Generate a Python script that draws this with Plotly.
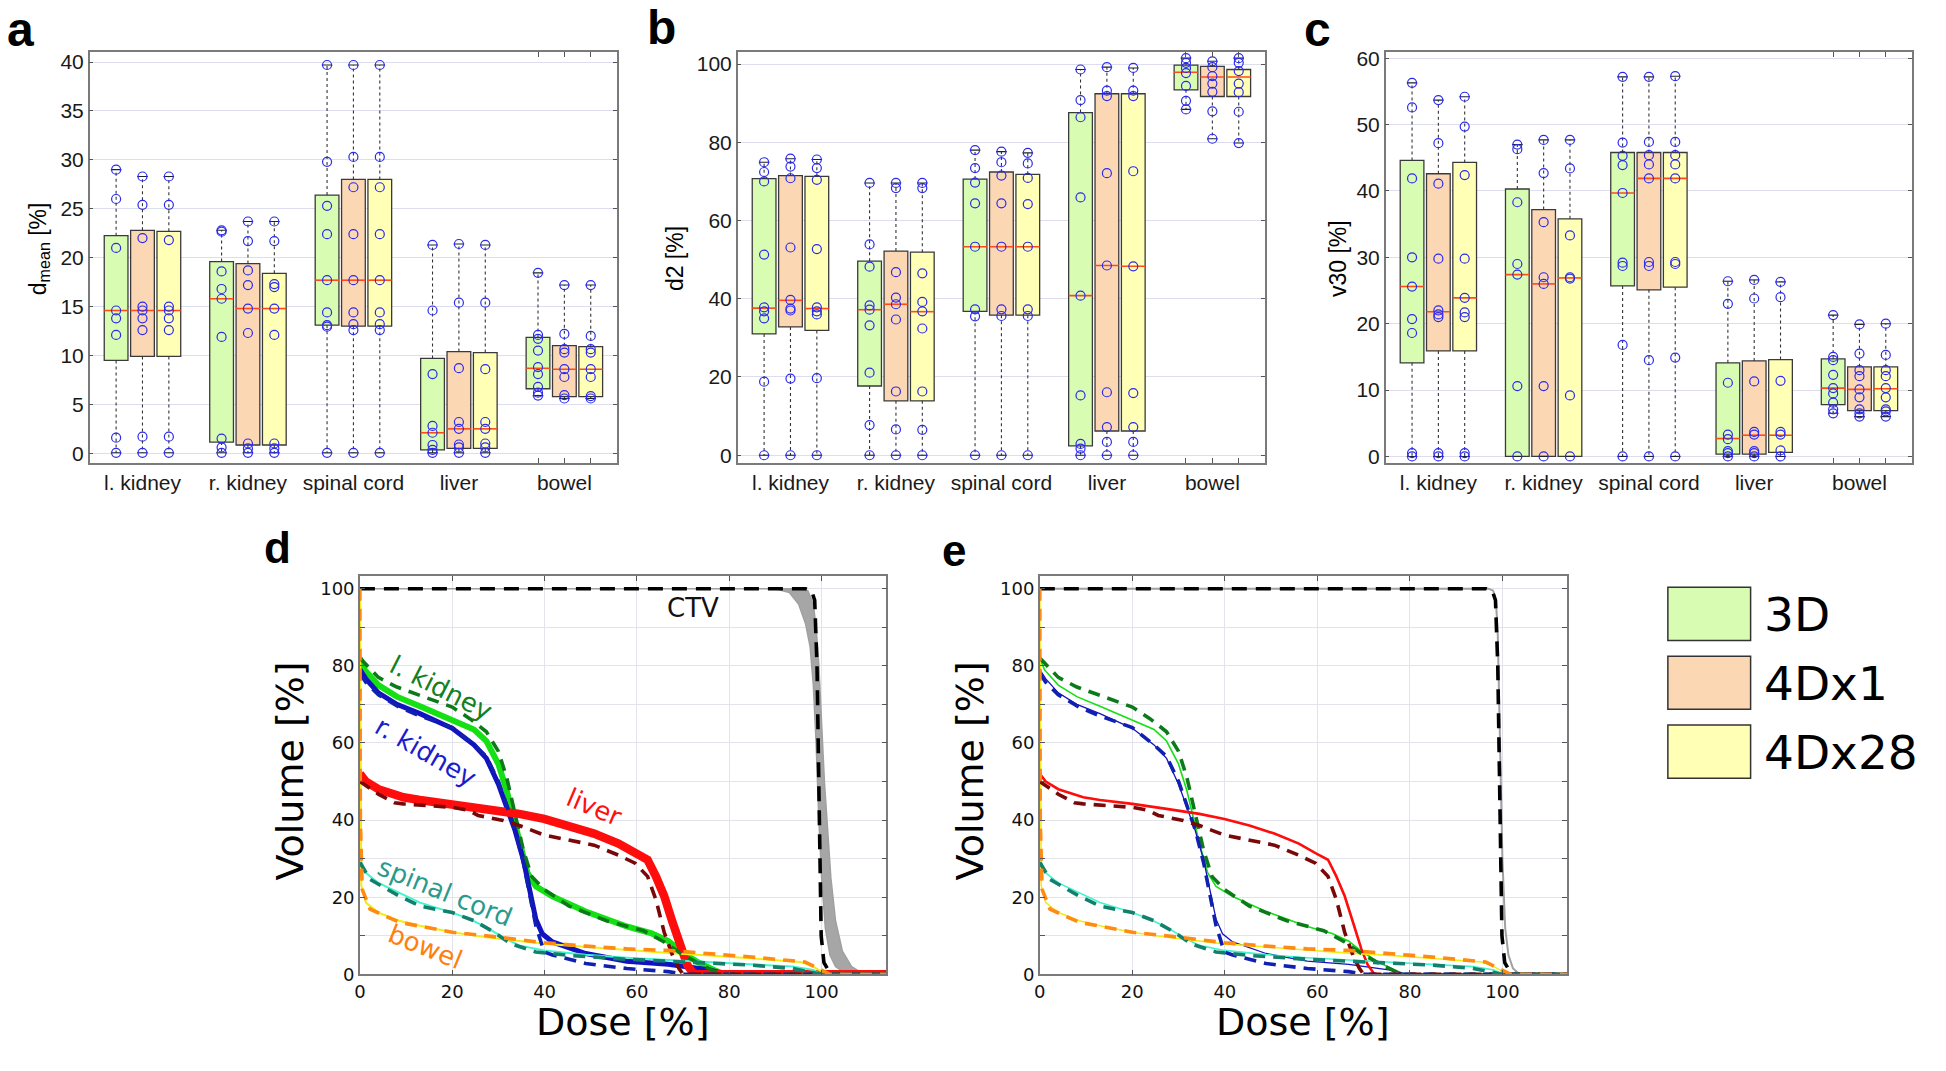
import plotly.graph_objects as go

# ---------------------------------------------------------------- data
CATEGORIES = ["l. kidney", "r. kidney", "spinal cord", "liver", "bowel"]
METHODS = ["3D", "4Dx1", "4Dx28"]
METHOD_FILLS = ["#d9fcb3", "#fcd7b4", "#ffffb5"]

# panel a : d_mean [%]  (points, q1, median, q3 per organ)
DMEAN_3D_PTS = [[29.0, 26.0, 21.0, 14.6, 13.8, 12.1, 1.6, 0.05],
                [22.8, 22.65, 18.6, 16.8, 15.8, 11.9, 1.5, 0.6, 0.05],
                [39.7, 29.8, 25.3, 22.4, 17.7, 14.4, 13.1, 12.95, 0.05],
                [21.3, 14.6, 8.1, 2.8, 2.1, 0.85, 0.35, 0.05],
                [18.45, 12.1, 11.7, 10.5, 8.8, 8.1, 6.8, 6.2, 5.9]]
DMEAN_3D_Q1 = [9.5, 1.15, 13.1, 0.35, 6.6]
DMEAN_3D_MED = [14.6, 15.8, 17.7, 2.1, 8.7]
DMEAN_3D_Q3 = [22.25, 19.6, 26.4, 9.7, 11.85]

DMEAN_4DX1_PTS = [[28.3, 25.4, 22.0, 15.0, 14.6, 13.8, 12.6, 1.7, 0.05],
                  [23.7, 21.7, 18.7, 17.2, 14.8, 12.3, 1.0, 0.5, 0.05],
                  [39.7, 30.3, 27.2, 22.4, 17.7, 14.4, 13.2, 12.6, 0.05],
                  [21.4, 15.4, 8.7, 3.2, 2.5, 0.9, 0.6, 0.05],
                  [17.2, 12.2, 10.65, 10.3, 8.6, 7.8, 5.95, 5.6]]
DMEAN_4DX1_Q1 = [9.9, 0.85, 13.0, 0.5, 5.8]
DMEAN_4DX1_MED = [14.6, 14.8, 17.7, 2.5, 8.6]
DMEAN_4DX1_Q3 = [22.8, 19.4, 28.0, 10.4, 11.0]

DMEAN_4DX28_PTS = [[28.3, 25.4, 21.8, 15.0, 14.6, 13.8, 12.6, 1.7, 0.05],
                   [23.7, 21.7, 17.3, 17.0, 14.8, 12.1, 1.0, 0.5, 0.05],
                   [39.7, 30.3, 27.2, 22.4, 17.7, 14.4, 13.2, 12.6, 0.05],
                   [21.3, 15.4, 8.6, 3.2, 2.5, 1.0, 0.6, 0.05],
                   [17.2, 12.0, 10.65, 10.3, 8.6, 7.8, 5.85, 5.6]]
DMEAN_4DX28_Q1 = [9.9, 0.85, 13.0, 0.5, 5.8]
DMEAN_4DX28_MED = [14.6, 14.8, 17.7, 2.5, 8.6]
DMEAN_4DX28_Q3 = [22.7, 18.4, 28.0, 10.3, 10.9]

# panel b : d2 [%]
D2_3D_PTS = [[74.9, 72.4, 70.0, 51.3, 37.8, 36.8, 35.0, 18.8, 0],
             [69.6, 53.9, 48.2, 38.3, 37.2, 33.2, 21.1, 7.7, 0],
             [78.0, 73.4, 69.7, 64.4, 53.3, 37.3, 35.5, 0],
             [98.6, 90.8, 86.4, 65.9, 40.8, 15.3, 2.9, 1.7, 0],
             [101.5, 100.3, 99.0, 97.7, 94.4, 90.6, 88.4]]
D2_3D_Q1 = [31.0, 17.7, 36.8, 2.4, 93.4]
D2_3D_MED = [37.6, 37.2, 53.3, 40.8, 97.9]
D2_3D_Q3 = [70.7, 49.6, 70.6, 87.6, 99.7]

D2_4DX1_PTS = [[75.8, 73.8, 70.8, 53.1, 39.7, 37.5, 37.0, 19.6, 0],
               [69.6, 68.3, 46.8, 40.3, 38.6, 34.7, 16.3, 6.6, 0],
               [77.6, 74.9, 71.5, 64.4, 53.3, 37.3, 35.6, 0],
               [99.2, 93.2, 91.8, 72.1, 48.5, 16.1, 7.2, 3.4, 0],
               [100.7, 99.2, 96.9, 95.0, 92.9, 87.9, 80.9]]
D2_4DX1_Q1 = [32.8, 13.9, 35.8, 6.2, 91.7]
D2_4DX1_MED = [39.6, 38.6, 53.3, 48.5, 96.7]
D2_4DX1_Q3 = [71.5, 52.2, 72.4, 92.4, 99.4]

D2_4DX28_PTS = [[75.6, 73.4, 70.4, 52.7, 37.8, 36.8, 36.0, 19.7, 0],
                [69.6, 68.3, 46.5, 39.2, 36.8, 32.4, 16.3, 6.5, 0],
                [77.3, 74.6, 70.9, 64.2, 53.3, 37.3, 35.6, 0],
                [99.0, 93.2, 91.8, 72.6, 48.3, 15.9, 7.2, 3.4, 0],
                [101.5, 100.3, 98.2, 95.0, 92.8, 87.8, 79.8]]
D2_4DX28_Q1 = [31.9, 13.9, 35.8, 6.2, 91.7]
D2_4DX28_MED = [37.5, 36.7, 53.3, 48.3, 96.7]
D2_4DX28_Q3 = [71.3, 51.9, 71.8, 92.4, 98.6]

# panel c : v30 [%]
V30_3D_PTS = [[56.3, 52.6, 41.9, 30.0, 25.6, 20.7, 18.6, 0.5, 0],
              [47.0, 46.3, 38.3, 29.0, 27.4, 10.6, 0],
              [57.2, 47.3, 45.3, 43.9, 39.7, 29.2, 28.7, 16.8, 0],
              [26.4, 23.0, 11.1, 3.3, 2.6, 0.8, 0.5, 0],
              [21.3, 15.0, 14.5, 12.3, 10.3, 9.5, 8.1, 7.1, 6.5]]
V30_3D_Q1 = [14.1, 0.0, 25.7, 0.35, 7.8]
V30_3D_MED = [25.6, 27.4, 39.7, 2.7, 10.3]
V30_3D_Q3 = [44.6, 40.3, 45.8, 14.1, 14.7]

V30_4DX1_PTS = [[53.7, 47.2, 41.1, 29.8, 22.0, 21.4, 21.0, 0.5, 0],
                [47.7, 42.7, 35.3, 27.0, 26.0, 10.6, 0],
                [57.2, 47.4, 45.4, 44.0, 41.9, 29.3, 28.7, 14.5, 0],
                [26.6, 23.8, 11.3, 3.7, 3.3, 0.8, 0.5, 0],
                [19.9, 15.5, 13.0, 12.1, 10.1, 8.9, 7.1, 6.5, 6.0]]
V30_4DX1_Q1 = [15.9, 0.0, 25.1, 0.35, 6.9]
V30_4DX1_MED = [21.8, 26.0, 41.9, 3.2, 10.1]
V30_4DX1_Q3 = [42.6, 37.2, 45.8, 14.4, 13.5]

V30_4DX28_PTS = [[54.2, 49.7, 42.4, 29.8, 23.9, 21.7, 21.0, 0.5, 0],
                 [47.7, 43.4, 33.3, 27.0, 26.8, 9.2, 0],
                 [57.3, 47.4, 45.4, 44.0, 41.9, 29.3, 29.0, 14.9, 0],
                 [26.3, 24.0, 11.4, 3.7, 3.3, 0.9, 0],
                 [20.0, 15.3, 13.0, 12.1, 10.3, 8.9, 7.1, 6.8, 6.0]]
V30_4DX28_Q1 = [15.9, 0.0, 25.5, 0.6, 6.9]
V30_4DX28_MED = [23.9, 26.9, 41.9, 3.2, 10.2]
V30_4DX28_Q3 = [44.3, 35.8, 45.8, 14.6, 13.5]

# panels d/e : dose-volume histograms (dose %, volume %)
LKID_DOSE = [0, 1, 4, 8, 13, 20, 24.7, 27.4, 30, 31.8, 33.2, 34.5, 36.3, 38.1, 41.7, 48.9, 57.8, 63.2, 66.8, 69.5, 73.1, 76.7, 79, 114]
LKID_VOL = [82, 79, 75, 72, 69.5, 66, 63.5, 60.5, 54.5, 47.6, 40.8, 34, 26.3, 22.8, 20.2, 16.3, 12.4, 10.6, 8.6, 6, 3.2, 1.1, 0, 0]
LKID_REF_DOSE = [0, 1.5, 4, 8, 13, 20, 23.8, 27.4, 30, 31.8, 33.6, 35.4, 37.2, 39.9, 45.3, 53.4, 61.4, 65.9, 69.5, 74, 77.6, 78.5, 114]
LKID_REF_VOL = [82, 80, 77, 74.5, 72.3, 69.3, 66.3, 62.9, 57.8, 51, 41.6, 32.2, 25.4, 22, 17.7, 13.9, 11.3, 8.4, 5.4, 2.4, 0.3, 0, 0]

RKID_DOSE = [0, 1.3, 4, 8, 13, 20, 24.7, 27.4, 30, 31.8, 33.6, 35.4, 36.8, 38.1, 39.5, 41.7, 48.9, 57.8, 66.8, 70, 75.8, 79.4, 114]
RKID_VOL = [79, 76.6, 73, 70, 67.6, 63.8, 59.5, 56, 49.3, 43.3, 37.3, 29.7, 22, 14.3, 10.5, 8.4, 5.4, 3.4, 2.6, 2.0, 1.1, 0, 0]
RKID_REF_DOSE = [0, 1.3, 4, 8.5, 13, 20, 24.7, 27.4, 30, 31.8, 33.6, 35.4, 36.8, 38.1, 39.9, 41.7, 48.9, 57.8, 66.8, 70.4, 114]
RKID_REF_VOL = [78, 75.7, 72.5, 69.3, 67, 64, 59.5, 56.5, 50, 44, 37.5, 29, 20, 12.6, 5.8, 5, 2.8, 1.5, 0.7, 0, 0]

LIVER_DOSE = [0, 1.3, 4, 9.4, 13, 20, 27.4, 34.5, 39.9, 45.3, 50.7, 56, 59.6, 62.3, 64.1, 65.9, 67.7, 69.5, 70.9, 72.2, 73, 114]
LIVER_VOL = [52, 50, 48, 45.9, 45.2, 44.2, 42.9, 41.6, 40.3, 38.6, 36.5, 33.9, 31.4, 29.7, 25.4, 20.3, 13.5, 6.6, 2.4, 0.3, 0, 0]
LIVER_REF_DOSE = [0, 4, 7.5, 9.4, 20, 23.5, 25.6, 31, 34.5, 39.9, 50.7, 56, 59.6, 62.3, 64.1, 65.9, 67.7, 69.1, 70, 114]
LIVER_REF_VOL = [50, 46.7, 44.5, 44.2, 43.3, 42.5, 41.2, 39.9, 38.6, 36.1, 33.5, 30.9, 28.8, 25.4, 19.4, 10.9, 4.9, 1.5, 0, 0]

CORD_DOSE = [0, 1.3, 4, 8.5, 13, 20, 23.8, 27.4, 31, 34.5, 39.9, 48.9, 57.8, 66.8, 75.8, 84.8, 93.7, 98.2, 100, 114]
CORD_VOL = [30, 26.3, 23.7, 21.1, 18.6, 16, 14.3, 12.2, 9.6, 7.5, 6.2, 5.1, 4.3, 3.7, 3.1, 2.6, 2.0, 1.1, 0, 0]
CORD_REF_DOSE = [0, 2.2, 8.5, 13, 20, 24.7, 29.1, 32.7, 38.1, 45.3, 57.8, 71.3, 84.8, 93.7, 99.1, 100, 114]
CORD_REF_VOL = [29, 24.6, 20.3, 17.7, 16, 13.9, 10.9, 7.9, 5.8, 4.9, 3.9, 3.2, 2.4, 1.5, 0.3, 0, 0]

BOWEL_DOSE = [0, 0.3, 1.3, 4, 8.5, 13, 20, 27.4, 39.9, 48.9, 57.8, 66.8, 75.8, 84.8, 95.5, 98.2, 100.4, 101, 114]
BOWEL_VOL = [100, 23, 18.6, 16, 13.9, 12.6, 10.9, 9.6, 7.9, 7.1, 6.2, 5.5, 4.9, 4.1, 3.2, 2.0, 0.3, 0, 0]
BOWEL_REF_DOSE = [0, 0.1, 0.5, 2.2, 8.5, 20, 27.4, 39.9, 48.9, 57.8, 66.8, 75.8, 84.8, 96.4, 100, 101.8, 114]
BOWEL_REF_VOL = [100, 40, 22, 16.9, 13.5, 10.9, 10, 8.2, 7.3, 6.6, 6.2, 5.4, 4.5, 3.2, 1.1, 0, 0]

CTV_REF_DOSE = [0, 96.5, 97.8, 98.5, 99.0, 99.5, 99.9, 100.5, 101.5, 103, 114]
CTV_REF_VOL = [100, 100, 99.5, 97, 80, 40, 10, 3, 1, 0, 0]
# panel d: spread of the 4D CTV curves (low-dose edge, high-dose edge)
CTV_LOW_DOSE = [0, 90, 93, 95, 96.5, 97.5, 98.2, 98.8, 99.4, 100, 100.8, 101.8, 103, 104.5, 106, 107, 114]
CTV_LOW_VOL = [100, 100, 99, 96, 91, 85, 75, 60, 40, 25, 12, 5, 2, 0.8, 0.2, 0, 0]
CTV_HIGH_DOSE = [0, 95, 97, 98.2, 98.8, 99.4, 100, 100.6, 101.3, 102, 103, 104.5, 106.5, 108.5, 110.5, 114]
CTV_HIGH_VOL = [100, 100, 99.5, 96, 90, 80, 65, 50, 38, 25, 14, 6, 2, 0.5, 0, 0]
# panel e: single CTV curve
CTV_DOSE = [0, 97, 98, 98.6, 99, 99.5, 100, 100.6, 101.3, 102.3, 103.5, 105, 114]
CTV_VOL = [100, 100, 99.5, 97, 88, 60, 30, 12, 5, 1.5, 0.3, 0, 0]

W, H = 1946, 1071

fig = go.Figure()

BOX_PANELS = [
    ("x", "y", [(DMEAN_3D_PTS, DMEAN_3D_Q1, DMEAN_3D_MED, DMEAN_3D_Q3),
                (DMEAN_4DX1_PTS, DMEAN_4DX1_Q1, DMEAN_4DX1_MED, DMEAN_4DX1_Q3),
                (DMEAN_4DX28_PTS, DMEAN_4DX28_Q1, DMEAN_4DX28_MED, DMEAN_4DX28_Q3)]),
    ("x2", "y2", [(D2_3D_PTS, D2_3D_Q1, D2_3D_MED, D2_3D_Q3),
                  (D2_4DX1_PTS, D2_4DX1_Q1, D2_4DX1_MED, D2_4DX1_Q3),
                  (D2_4DX28_PTS, D2_4DX28_Q1, D2_4DX28_MED, D2_4DX28_Q3)]),
    ("x3", "y3", [(V30_3D_PTS, V30_3D_Q1, V30_3D_MED, V30_3D_Q3),
                  (V30_4DX1_PTS, V30_4DX1_Q1, V30_4DX1_MED, V30_4DX1_Q3),
                  (V30_4DX28_PTS, V30_4DX28_Q1, V30_4DX28_MED, V30_4DX28_Q3)]),
]

BOX_W = 0.9
CAP = 0.2
for xa, ya, series in BOX_PANELS:
    for m, (pts, q1, med, q3) in enumerate(series):
        pos = [1 + 4 * g + m for g in range(len(CATEGORIES))]
        fig.add_trace(go.Bar(
            x=pos, y=[b - a for a, b in zip(q1, q3)], base=q1, width=BOX_W,
            marker=dict(color=METHOD_FILLS[m], line=dict(color="#3a3a3a", width=1.3)),
            xaxis=xa, yaxis=ya, showlegend=False, hoverinfo="skip"))
        wx, wy, cx, cy, mx, my, px_, py_ = [], [], [], [], [], [], [], []
        for p, pt, a, md, b in zip(pos, pts, q1, med, q3):
            lo, hi = min(pt), max(pt)
            wx += [p, p, None, p, p, None]
            wy += [b, hi, None, a, lo, None]
            cx += [p - CAP, p + CAP, None, p - CAP, p + CAP, None]
            cy += [hi, hi, None, lo, lo, None]
            mx += [p - BOX_W / 2, p + BOX_W / 2, None]
            my += [md, md, None]
            px_ += [p] * len(pt)
            py_ += pt
        fig.add_trace(go.Scatter(x=wx, y=wy, mode="lines", xaxis=xa, yaxis=ya,
                                 line=dict(color="#333333", width=1.1, dash="3px,3px"),
                                 showlegend=False, hoverinfo="skip"))
        fig.add_trace(go.Scatter(x=cx, y=cy, mode="lines", xaxis=xa, yaxis=ya,
                                 line=dict(color="#222222", width=1.1),
                                 showlegend=False, hoverinfo="skip"))
        fig.add_trace(go.Scatter(x=mx, y=my, mode="lines", xaxis=xa, yaxis=ya,
                                 line=dict(color="#ff4a1a", width=1.6),
                                 showlegend=False, hoverinfo="skip"))
        fig.add_trace(go.Scatter(x=px_, y=py_, mode="markers", xaxis=xa, yaxis=ya,
                                 marker=dict(symbol="circle-open", size=9,
                                             color="#2a2aee", line=dict(width=1.2, color="#2a2aee")),
                                 showlegend=False, hoverinfo="skip"))

# ---------------------------------------------------------------- DVH panels
DVH_SOLID = [
    (LKID_DOSE, LKID_VOL, "#14e014", 6.0, 1.6),
    (RKID_DOSE, RKID_VOL, "#1212c0", 5.0, 1.3),
    (LIVER_DOSE, LIVER_VOL, "#ff0c0c", 8.5, 2.6),
    (CORD_DOSE, CORD_VOL, "#3ff5cc", 2.0, 1.6),
    (BOWEL_DOSE, BOWEL_VOL, "#f2ec10", 2.0, 1.6),
]
DVH_DASHED = [
    (CTV_REF_DOSE, CTV_REF_VOL, "#000000", "15px,9px"),
    (LKID_REF_DOSE, LKID_REF_VOL, "#0d7a1a", "12px,8px"),
    (RKID_REF_DOSE, RKID_REF_VOL, "#1020b0", "12px,8px"),
    (LIVER_REF_DOSE, LIVER_REF_VOL, "#7a0808", "12px,8px"),
    (CORD_REF_DOSE, CORD_REF_VOL, "#13806e", "12px,8px"),
    (BOWEL_REF_DOSE, BOWEL_REF_VOL, "#ff8a14", "12px,8px"),
]

for xa, ya, band in (("x4", "y4", True), ("x5", "y5", False)):
    if band:
        fig.add_trace(go.Scatter(
            x=CTV_LOW_DOSE + CTV_HIGH_DOSE[::-1], y=CTV_LOW_VOL + CTV_HIGH_VOL[::-1],
            fill="toself", fillcolor="#a6a6a6", mode="lines",
            line=dict(color="#a0a0a0", width=1.5),
            xaxis=xa, yaxis=ya, showlegend=False, hoverinfo="skip"))
    else:
        fig.add_trace(go.Scatter(x=CTV_DOSE, y=CTV_VOL, mode="lines",
                                 line=dict(color="#a0a0a0", width=2.0),
                                 xaxis=xa, yaxis=ya, showlegend=False, hoverinfo="skip"))
    for dose, vol, col, wd, we in DVH_SOLID:
        fig.add_trace(go.Scatter(x=dose, y=vol, mode="lines",
                                 line=dict(color=col, width=wd if band else we),
                                 xaxis=xa, yaxis=ya, showlegend=False, hoverinfo="skip"))
    for dose, vol, col, dash in DVH_DASHED:
        fig.add_trace(go.Scatter(x=dose, y=vol, mode="lines",
                                 line=dict(color=col, width=3.6, dash=dash),
                                 xaxis=xa, yaxis=ya, showlegend=False, hoverinfo="skip"))

# ---------------------------------------------------------------- axes
def px_x(a, b):
    return [a / W, b / W]


def px_y(top, bottom):
    return [1 - bottom / H, 1 - top / H]


FRAME = "#7a7a7a"
GRID_TOP = "#dcdeee"
TICK_FONT_TOP = dict(family="Liberation Sans, Arial, sans-serif", size=21, color="#1a1a1a")
TICK_FONT_DVH = dict(family="DejaVu Sans, Verdana, sans-serif", size=18, color="#111111")

top_dom_y = px_y(47, 464)
box_xdoms = [px_x(84, 613), px_x(734, 1263), px_x(1384, 1912)]
box_yranges = [[-1.0, 41.0], [-2.0, 103.0], [-1.0, 60.9]]
box_dticks = [5, 20, 10]

layout = dict(
    width=W, height=H, margin=dict(l=0, r=0, t=0, b=0),
    paper_bgcolor="white", plot_bgcolor="white",
    barmode="overlay", showlegend=False,
)
for i, (dom, yr, dt) in enumerate(zip(box_xdoms, box_yranges, box_dticks)):
    sfx = "" if i == 0 else str(i + 1)
    layout["xaxis" + sfx] = dict(
        domain=dom, anchor="y" + sfx, range=[0, 20],
        tickvals=[2, 6, 10, 14, 18], ticktext=CATEGORIES,
        showgrid=False, zeroline=False, showline=True, mirror="allticks",
        linecolor=FRAME, linewidth=1.5, ticks="", tickfont=TICK_FONT_TOP,
        minor=dict(tickvals=[17, 18, 19], ticks="inside", ticklen=5,
                   tickcolor="#555555", showgrid=False))
    layout["yaxis" + sfx] = dict(
        domain=top_dom_y, anchor="x" + sfx, range=yr, dtick=dt, tick0=0,
        showgrid=True, gridcolor=GRID_TOP, gridwidth=1.2, zeroline=False,
        showline=True, mirror="ticks", linecolor=FRAME, linewidth=1.5,
        ticks="inside", ticklen=4, tickcolor="#555555", tickfont=TICK_FONT_TOP)

bot_dom_y = px_y(579, 983)
dvh_xdoms = [px_x(355, 883), px_x(1037, 1566)]
for i, dom in enumerate(dvh_xdoms):
    sfx = str(i + 4)
    layout["xaxis" + sfx] = dict(
        domain=dom, anchor="y" + sfx, range=[0, 114],
        tickvals=[0, 20, 40, 60, 80, 100],
        showgrid=True, gridcolor="#e3e3ec", gridwidth=1.2, zeroline=False,
        showline=True, mirror="ticks", linecolor=FRAME, linewidth=1.5,
        ticks="inside", ticklen=5, tickcolor="#555555", tickfont=TICK_FONT_DVH)
    layout["yaxis" + sfx] = dict(
        domain=bot_dom_y, anchor="x" + sfx, range=[0, 103.2],
        tickvals=[0, 20, 40, 60, 80, 100],
        showgrid=True, gridcolor="#e3e3ec", gridwidth=1.2, zeroline=False,
        showline=True, mirror="ticks", linecolor=FRAME, linewidth=1.5,
        ticks="inside", ticklen=5, tickcolor="#555555", tickfont=TICK_FONT_DVH,
        minor=dict(tickvals=[10, 30, 50, 70, 90], ticks="inside", ticklen=5,
                   tickcolor="#555555", showgrid=True, gridcolor="#e3e3ec", gridwidth=1.2))

fig.update_layout(**layout)

# ---------------------------------------------------------------- text
ann = []


def paper_ann(text, x, y, size, family, color="black", xanchor="center", yanchor="middle",
              angle=0, bold=False):
    ann.append(dict(text=("<b>%s</b>" % text) if bold else text,
                    x=x / W, y=1 - y / H, xref="paper", yref="paper",
                    xanchor=xanchor, yanchor=yanchor, showarrow=False, textangle=angle,
                    font=dict(size=size, family=family, color=color)))


ARIAL = "Liberation Sans, Arial, sans-serif"
VERD = "DejaVu Sans, Verdana, sans-serif"

# panel letters
paper_ann("a", -1, 24, 48, ARIAL, xanchor="left", bold=True)
paper_ann("b", 641, 22, 48, ARIAL, xanchor="left", bold=True)
paper_ann("c", 1300, 24, 48, ARIAL, xanchor="left", bold=True)
paper_ann("d", 257, 550, 44, ARIAL, xanchor="left", bold=True)
paper_ann("e", 937, 553, 44, ARIAL, xanchor="left", bold=True)

# y titles of the box panels
paper_ann("d<sub>mean</sub> [%]", 33, 246, 23, ARIAL, angle=-90)
paper_ann("d2 [%]", 671, 256, 23, ARIAL, angle=-90)
paper_ann("v30 [%]", 1336, 256, 23, ARIAL, angle=-90)

# DVH axis titles
for x0, x1 in ((355, 883), (1037, 1566)):
    paper_ann("Volume [%]", x0 - 70, 777, 38, VERD, angle=-90)
    paper_ann("Dose [%]", (x0 + x1) / 2, 1031, 38, VERD)

# structure labels (panel d)
DVH_LABELS = [
    ("CTV", 72.2, 94.9, "#111111", 0),
    ("l. kidney", 17.6, 74.3, "#12801e", 27),
    ("r. kidney", 14.3, 57.6, "#1c1ccc", 30),
    ("liver", 50.7, 43.5, "#ff1010", 23),
    ("spinal cord", 18.4, 21.3, "#2a9a8c", 22),
    ("bowel", 14.3, 7.2, "#ff7f0e", 22),
]
for txt, dx, dy, col, ang in DVH_LABELS:
    ann.append(dict(text=txt, x=dx, y=dy, xref="x4", yref="y4", showarrow=False,
                    textangle=ang, font=dict(size=26, family=VERD, color=col)))

# legend
LEG_TOPS = [590, 660, 730]
shapes = []
for top, name, col in zip(LEG_TOPS, METHODS, METHOD_FILLS):
    shapes.append(dict(type="rect", xref="paper", yref="paper",
                       x0=1667 / W, x1=1750 / W, y0=1 - (top + 54) / H, y1=1 - top / H,
                       fillcolor=col, line=dict(color="#333333", width=1.5)))
    paper_ann(name, 1761, top + 28, 47, VERD, xanchor="left")

fig.update_layout(annotations=ann, shapes=shapes)

fig.write_html("out.html", config={"displayModeBar": False},
               post_script="document.body.style.margin='0';")
